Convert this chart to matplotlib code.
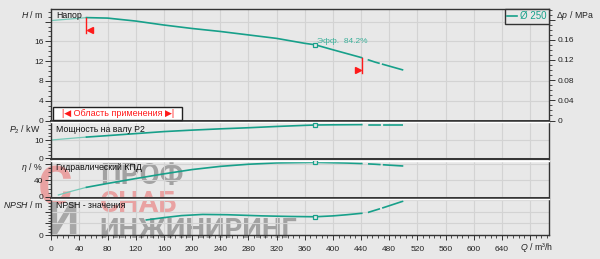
import numpy as np
import matplotlib.pyplot as plt
from matplotlib.lines import Line2D
from matplotlib.patches import Rectangle
from matplotlib.ticker import MultipleLocator
from matplotlib.transforms import offset_copy

# values, Q in m3/h
q_head = [0, 25, 50, 80, 120, 160, 200, 240, 280, 320, 360, 375, 400, 441, 460, 480, 500]
head = [20.2, 20.5, 20.8, 20.7, 20.1, 19.3, 18.6, 18.0, 17.3, 16.6, 15.6, 15.3, 14.3, 12.7, 11.8, 11.0, 10.2]

q_power = [0, 40, 50, 80, 120, 160, 200, 240, 280, 320, 360, 375, 400, 441, 470, 500]
power = [10.0, 11.3, 11.6, 12.4, 13.5, 14.6, 15.4, 16.1, 16.7, 17.4, 18.0, 18.2, 18.3, 18.4, 18.4, 18.4]

q_eff = [10, 30, 50, 80, 120, 160, 200, 240, 280, 320, 375, 420, 441, 460, 480, 500]
eff = [4.2, 14.0, 23.0, 32.5, 44.5, 56.0, 66.5, 74.3, 79.5, 82.8, 84.2, 82.5, 81.2, 79.5, 77.3, 75.2]

q_npsh = [135, 160, 185, 215, 250, 300, 340, 375, 400, 420, 441, 450, 470, 500]
npsh = [5.2, 6.0, 6.7, 7.1, 7.0, 6.6, 6.4, 6.3, 6.6, 7.0, 7.5, 7.8, 9.3, 11.7]

q_min, q_max = 50, 441      # operating range
q_duty = 375
eff_duty = 84.2
impeller = "Ø 250"
q_ticks = list(range(0, 681, 40))
q_tick_labels = [str(q) for q in q_ticks[:-1]] + [""]
panel_names = ["Напор", "Мощность на валу P2", "Гидравлический КПД", "NPSH - значения"]

FIG_W, FIG_H = 600, 259
TEAL = '#17a08a'
TEAL_LIGHT = '#74c9b8'
BG = '#e8e8e8'
GRID = '#d3d3d3'
DARK = '#333333'
RED = '#ff1a1a'
DASHES = (32.3, (9.1, 1.6, 21.6, 4.5))
X_LEFT, X_RIGHT = 51.3, 549.0
Q_AXIS_MAX = 707

plt.rcParams['font.family'] = ['Liberation Sans', 'DejaVu Sans']
plt.rcParams['mathtext.fontset'] = 'custom'
plt.rcParams['mathtext.rm'] = 'Liberation Sans'
plt.rcParams['mathtext.it'] = 'Liberation Sans:italic'
plt.rcParams['lines.scale_dashes'] = False


def fx(px):
    return px / FIG_W


def fy(py):
    return 1 - py / FIG_H


def add_panel(fig, top, bottom, ylim):
    ax = fig.add_axes([fx(X_LEFT), fy(bottom), (X_RIGHT - X_LEFT) / FIG_W, (bottom - top) / FIG_H])
    ax.set_facecolor('none')
    ax.set_xlim(0, Q_AXIS_MAX)
    ax.set_ylim(*ylim)
    ax.set_xticks(q_ticks)
    ax.xaxis.set_minor_locator(MultipleLocator(8))
    ax.grid(True, which='major', color=GRID, lw=0.8)
    ax.set_axisbelow(True)
    ax.tick_params(axis='x', which='both', bottom=False, labelbottom=False)
    ax.tick_params(axis='y', which='major', length=4.5, width=0.7, color=DARK,
                   labelsize=6, pad=1, labelcolor='#222222')
    ax.tick_params(axis='y', which='minor', length=2.5, width=0.6, color=DARK)
    for side in ('left', 'right'):
        ax.spines[side].set_color(DARK)
        ax.spines[side].set_linewidth(1.0)
    ax.spines['top'].set_color('white')
    ax.spines['top'].set_linewidth(1.0)
    ax.spines['bottom'].set_color(DARK)
    ax.spines['bottom'].set_linewidth(1.4)
    return ax


def draw_curve(ax, q, v):
    q = np.array(q)
    v = np.array(v)
    lo = q <= q_min
    mid = (q >= q_min) & (q <= q_max)
    hi = q >= q_max
    ax.plot(q[lo], v[lo], color=TEAL_LIGHT, lw=0.9)
    ax.plot(q[mid], v[mid], color=TEAL, lw=1.2)
    ax.plot(q[hi], v[hi], color=TEAL, lw=1.2, ls=DASHES)
    v_duty = v[q == q_duty][0]
    ax.plot(q_duty, v_duty, marker='s', ms=3.5, mfc=BG, mec=TEAL, mew=0.9, zorder=5)
    return v_duty


def main():
    fig = plt.figure(figsize=(FIG_W / 100, FIG_H / 100), dpi=100, facecolor=BG)

    # watermark behind the transparent panels
    wm = dict(zorder=-5, va='center', ha='left', family=['Roboto', 'DejaVu Sans'], fontweight='bold')
    fig.text(fx(100), fy(176), "ПРОФ", fontsize=21, color='#a2a2a2', **wm)
    fig.text(fx(100), fy(204), "СНАБ", fontsize=21, color='#e9a2a2', **wm)
    fig.text(fx(99), fy(231), "ИНЖИНИРИНГ", fontsize=20, color='#a2a2a2', **wm)
    fig.text(fx(38), fy(190), "С", fontsize=38, color='#e9a2a2', **wm)
    fig.text(fx(47), fy(222), "И", fontsize=32, color='#a8a8a8', **wm)

    # head panel
    ax_h = add_panel(fig, 8.7, 120.5, (0, 22.6))
    ax_h.spines['top'].set_color(DARK)
    ax_h.set_yticks([0, 4, 8, 12, 16, 20], ['0', '4', '8', '12', '16', ''])
    ax_h.yaxis.set_minor_locator(MultipleLocator(1))
    ax_h.yaxis.grid(True, color=GRID, lw=0.8)
    h_duty = draw_curve(ax_h, q_head, head)

    for qq, mk, dx in [(q_min, '<', 4), (q_max, '>', -4)]:
        hq = head[q_head.index(qq)]
        ax_h.plot([qq, qq], [hq, hq - 3.1], color=RED, lw=1.0, zorder=6)
        ax_h.plot(qq, hq - 2.55, marker=mk, color=RED, ms=5, zorder=6,
                  transform=offset_copy(ax_h.transData, fig, x=dx, units='dots'))

    ax_h.annotate(f"Эфф.  {eff_duty}%", xy=(q_duty, h_duty), xytext=(1, 1.6),
                  textcoords='offset points', color='#3cb09a', fontsize=6,
                  ha='left', va='baseline')

    leg = ax_h.legend(handles=[Line2D([], [], color=TEAL, lw=1.2)], labels=[impeller],
                      loc='upper right', fancybox=False, edgecolor=DARK, facecolor=BG,
                      framealpha=1, labelcolor=TEAL, handlelength=1.0, handletextpad=0.3,
                      borderpad=0.25, borderaxespad=0, fontsize=7)
    leg.get_frame().set_linewidth(1.0)

    # pressure scale on the right
    ax_p = ax_h.twinx()
    ax_p.set_ylim(0, 22.6 * 0.00981)
    ax_p.set_yticks([0, 0.04, 0.08, 0.12, 0.16, 0.2], ['0', '0.04', '0.08', '0.12', '0.16', ''])
    ax_p.yaxis.set_minor_locator(MultipleLocator(0.01))
    ax_p.tick_params(axis='y', which='major', length=4.5, width=0.7, color=DARK,
                     labelsize=6, pad=1.5, labelcolor='#222222')
    ax_p.tick_params(axis='y', which='minor', length=2.5, width=0.6, color=DARK)
    for sp in ax_p.spines.values():
        sp.set_visible(False)

    # operating range box
    fig.patches.append(Rectangle((fx(52.7), fy(120)), (182 - 52.7) / FIG_W, 13.3 / FIG_H,
                                 transform=fig.transFigure, facecolor='white',
                                 edgecolor='#222222', lw=1.0, zorder=4))
    fig.text(fx(62), fy(113.6), "|◀ Область применения ▶|", fontsize=6.5,
             color=RED, ha='left', va='center', zorder=5)

    # power panel
    ax_pw = add_panel(fig, 122, 159.3, (-0.55, 19.84))
    ax_pw.set_yticks([0, 10], ['0', '10'])
    ax_pw.yaxis.set_minor_locator(MultipleLocator(2))
    ax_pw.yaxis.grid(True, color=GRID, lw=0.8)
    draw_curve(ax_pw, q_power, power)

    # efficiency panel
    ax_e = add_panel(fig, 160.5, 197.5, (-1.96, 88.7))
    ax_e.set_yticks([0, 40, 80], ['0', '40', ''])
    ax_e.yaxis.set_minor_locator(MultipleLocator(10))
    ax_e.yaxis.grid(True, color=GRID, lw=0.8)
    draw_curve(ax_e, q_eff, eff)

    # NPSH panel
    ax_n = add_panel(fig, 198.5, 235.3, (-0.1, 12.6))
    ax_n.set_yticks([0, 4, 8, 12], ['0', '', '', ''])
    ax_n.yaxis.set_minor_locator(MultipleLocator(1))
    ax_n.yaxis.grid(True, color=GRID, lw=0.8)
    ax_n.spines['bottom'].set_linewidth(1.0)
    draw_curve(ax_n, q_npsh, npsh)
    ax_n.tick_params(axis='x', which='both', bottom=True, labelbottom=True,
                     color=DARK, labelsize=6, labelcolor='#222222')
    ax_n.tick_params(axis='x', which='major', length=3.5, width=0.7, pad=4)
    ax_n.tick_params(axis='x', which='minor', length=2, width=0.6)
    ax_n.set_xticks(q_ticks, q_tick_labels)

    for name, y in zip(panel_names, [15, 130, 168, 206]):
        fig.text(fx(56), fy(y), name, fontsize=6.3, color='#111111', ha='left', va='center')

    # axis names
    lab = dict(fontsize=6.3, color='#222222', va='center')
    fig.text(fx(43), fy(15), r'$\mathit{H}$ / m', ha='right', **lab)
    fig.text(fx(40.5), fy(129.5), r'$\mathit{P}_{2}$ / kW', ha='right', **lab)
    fig.text(fx(43), fy(167.5), r'$\mathit{\eta}$ / %', ha='right', **lab)
    fig.text(fx(43), fy(205), r'$\mathit{NPSH}$ / m', ha='right', **lab)
    fig.text(fx(556), fy(15), r'$\Delta\mathit{p}$ / MPa', ha='left', **lab)
    fig.text(fx(553), fy(247.5), r'$\mathit{Q}$ / m³/h', ha='right', **lab)

    fig.savefig("out.png", dpi=100, facecolor=BG)
    plt.close(fig)


if __name__ == "__main__":
    main()
